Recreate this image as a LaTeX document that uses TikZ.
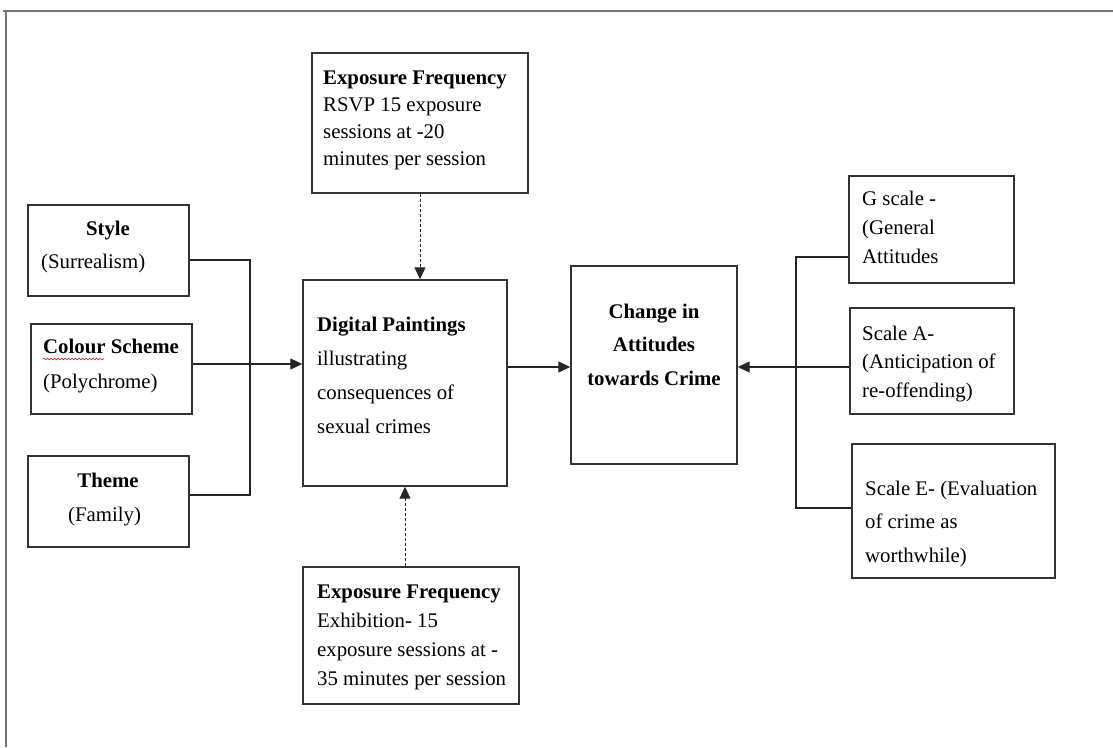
\documentclass[tikz,border=0pt]{standalone}
\usepackage{fontspec}
\setmainfont{Liberation Serif}
\usetikzlibrary{arrows.meta,decorations.pathmorphing}
\begin{document}
\begin{tikzpicture}[x=1pt,y=-1pt,
  box/.style={draw=black!80,line width=1.4pt,rectangle,inner sep=0pt},
  txt/.style={inner sep=0pt,align=left,anchor=base west},
  ctxt/.style={inner sep=0pt,align=center,anchor=base},
  link/.style={draw=black!85,line width=1.2pt},
  arr/.style={link,-{Triangle[length=12pt,width=11pt]}},
  darr/.style={draw=black!85,line width=1pt,dash pattern=on 3pt off 2pt,-{Triangle[length=12pt,width=11pt]}},
  frame/.style={draw=black!55,line width=2pt}]
\useasboundingbox (0,0) rectangle (1113,747);
% frame
\draw[frame] (3,11) -- (1113,11);
\draw[frame] (6,11) -- (6,747);
% boxes
\node[box,minimum width=216pt,minimum height=140pt] (expT) at (420,123) {};
\node[box,minimum width=204pt,minimum height=206pt] (dp) at (405,383) {};
\node[box,minimum width=216pt,minimum height=137pt] (expB) at (411,635.5) {};
\node[box,minimum width=161pt,minimum height=91pt] (style) at (108.5,250.5) {};
\node[box,minimum width=161pt,minimum height=90pt] (colour) at (111.5,369) {};
\node[box,minimum width=161pt,minimum height=91pt] (theme) at (108.5,501.5) {};
\node[box,minimum width=166pt,minimum height=198pt] (change) at (654,365) {};
\node[box,minimum width=165pt,minimum height=107pt] (gsc) at (931.5,229.5) {};
\node[box,minimum width=164pt,minimum height=106pt] (asc) at (932,361) {};
\node[box,minimum width=203pt,minimum height=134pt] (esc) at (953.5,511) {};
% texts (anchor = baseline of the last line)
\node[txt,font=\fontsize{20.8}{26.7}\selectfont] (expTt) at (323,165)
  {\textbf{Exposure Frequency}\\RSVP 15 exposure\\sessions at -20\\minutes per session};
\node[txt,font=\fontsize{20.8}{33.7}\selectfont] (dpt) at (317,433)
  {\textbf{Digital Paintings}\\illustrating\\consequences of\\sexual crimes};
\node[txt,font=\fontsize{20.8}{29}\selectfont] (expBt) at (317,685)
  {\textbf{Exposure Frequency}\\Exhibition- 15\\exposure sessions at -\\35 minutes per session};
\node[ctxt,font=\fontsize{20.8}{25}\selectfont\bfseries] (stylet) at (108,235) {Style};
\node[txt,font=\fontsize{20.8}{25}\selectfont] (stylet2) at (41,268) {(Surrealism)};
\node[txt,font=\fontsize{20.8}{35}\selectfont] (colourt) at (43,388) {\textbf{Colour Scheme}\\(Polychrome)};
\node[ctxt,font=\fontsize{20.8}{25}\selectfont\bfseries] (themet) at (108,487) {Theme};
\node[txt,font=\fontsize{20.8}{25}\selectfont] (themet2) at (68,521) {(Family)};
\node[ctxt,font=\fontsize{20.8}{33.5}\selectfont\bfseries] (changet) at (654,385)
  {Change in\\Attitudes\\towards Crime};
\node[txt,font=\fontsize{20.8}{29}\selectfont] (gsct) at (862,263) {G scale -\\(General\\Attitudes};
\node[txt,font=\fontsize{20.8}{28.5}\selectfont] (asct) at (862,397) {Scale A-\\(Anticipation of\\re-offending)};
\node[txt,font=\fontsize{20.8}{33.5}\selectfont] (esct) at (865,562) {Scale E- (Evaluation\\of crime as\\worthwhile)};
% spell-check underline
\draw[red!80!black,line width=0.6pt,decorate,decoration={snake,amplitude=0.9pt,segment length=3.5pt}] (43,359) -- (104,359);
% left bracket
\coordinate (lb1) at (250,260);
\coordinate (lb2) at (250,495);
\coordinate (lc) at (250,364);
\draw[link] (style.east |- lb1) -- (lb1) -- (lb2) -- (theme.east |- lb2);
\draw[arr] (colour.east |- lc) -- (dp.west |- lc);
% exposure arrows
\coordinate (ta) at (420,200);
\draw[darr] (expT.south) -- (ta |- dp.north);
\coordinate (ba) at (405,550);
\draw[darr] (ba |- expB.north) -- (dp.south);
% main arrow
\coordinate (m) at (540,367);
\draw[arr] (dp.east |- m) -- (change.west |- m);
% right bracket
\coordinate (rb1) at (796,257);
\coordinate (rb2) at (796,508);
\coordinate (rc) at (796,367);
\draw[link] (gsc.west |- rb1) -- (rb1) -- (rb2) -- (esc.west |- rb2);
\draw[arr] (asc.west |- rc) -- (change.east |- rc);
\end{tikzpicture}
\end{document}
